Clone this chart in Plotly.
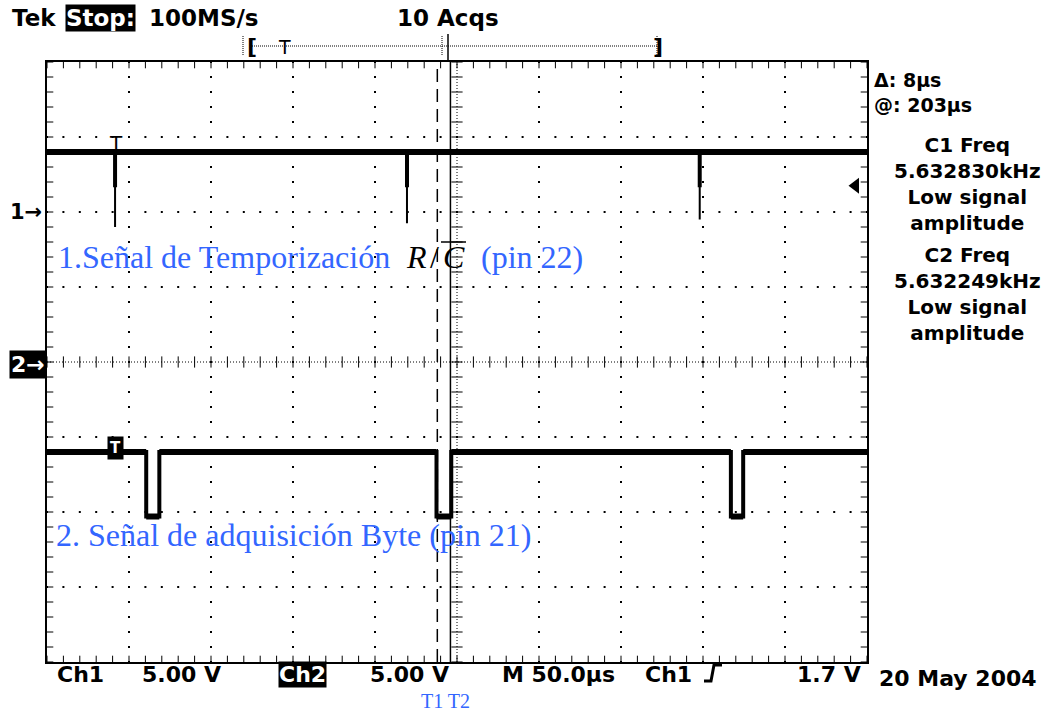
import numpy as np
import plotly.graph_objects as go

# ---------------- data ----------------
# time axis in microseconds (50 us/div, 10 div), vertical axis in screen divisions (-4..4)
ch1_high = 2.8
ch1_spike_t = [41.5, 219.5, 398.0]
ch1_spike_bottom = [1.8, 1.85, 1.9]
ch1_spike_knee = [2.33, 2.33, 2.33]

ch2_high = -1.2
ch2_low = -2.06
ch2_fall_t = [60.5, 237.5, 417.0]
ch2_rise_t = [68.5, 246.5, 424.5]

trigger_t = 42.0
trigger_level = 2.35
cursor_t1 = 238.0
cursor_t2 = 246.0

top_labels = ["Tek", "Stop:", "100MS/s", "10 Acqs"]
bottom_labels = ["Ch1", "5.00 V", "Ch2", "5.00 V", "M 50.0\u00b5s", "Ch1", "1.7 V", "20 May 2004"]
side_cursor = ["\u0394: 8\u00b5s", "@: 203\u00b5s"]
side_c1 = ["C1 Freq", "5.632830kHz", "Low signal", "amplitude"]
side_c2 = ["C2 Freq", "5.632249kHz", "Low signal", "amplitude"]
blue1 = ["1.Se\u00f1al de Temporizaci\u00f3n", "(pin 22)"]
blue2 = "2. Se\u00f1al de adquisici\u00f3n Byte (pin 21)"
cursor_names = "T1 T2"

# ---------------- geometry helpers (layout only) ----------------
W, H = 1059, 713
L, R, T, B = 47, 867, 62, 662
XMAX, YMAX = 500.0, 4.0


def xp(px):
    return (px - L) / (R - L)


def yp(py):
    return (B - py) / (B - T)


SCOPE = "DejaVu Sans"
SERIF = "Liberation Serif"
BLUE = "#3366FF"

fig = go.Figure()

# ---------------- graticule ----------------
sub_x = np.arange(0, XMAX + 0.01, 10.0)
sub_y = np.round(np.arange(-YMAX, YMAX + 0.001, 0.2), 3)
major_x = [m for m in np.arange(50.0, XMAX, 50.0) if m != 250.0]
major_y = [m for m in range(-3, 4) if m != 0]

gx, gy = [], []
for mx in major_x:
    for v in sub_y:
        gx.append(mx); gy.append(v)
for my in major_y:
    for v in sub_x:
        gx.append(v); gy.append(my)
fig.add_trace(go.Scatter(x=gx, y=gy, mode="markers", hoverinfo="skip",
                         marker=dict(symbol="square", size=2, color="black", line=dict(width=0))))

# center-cross ticks
fig.add_trace(go.Scatter(x=[250.0] * len(sub_y), y=sub_y, mode="markers", hoverinfo="skip",
                         marker=dict(symbol="line-ew", size=8, line=dict(width=1, color="black"))))
fig.add_trace(go.Scatter(x=sub_x, y=[0.0] * len(sub_x), mode="markers", hoverinfo="skip",
                         marker=dict(symbol="line-ns", size=8, line=dict(width=1, color="black"))))
# border ticks (half clipped by the plot area)
fig.add_trace(go.Scatter(x=list(sub_x) * 2, y=[YMAX] * len(sub_x) + [-YMAX] * len(sub_x),
                         mode="markers", hoverinfo="skip",
                         marker=dict(symbol="line-ns", size=9, line=dict(width=1, color="black"))))
fig.add_trace(go.Scatter(x=[0.0] * len(sub_y) + [XMAX] * len(sub_y), y=list(sub_y) * 2,
                         mode="markers", hoverinfo="skip",
                         marker=dict(symbol="line-ew", size=9, line=dict(width=1, color="black"))))

# ---------------- channel 1 ----------------
x1, y1 = [0.0], [ch1_high]
for t, b in zip(ch1_spike_t, ch1_spike_bottom):
    x1 += [t, t, t]
    y1 += [ch1_high, b, ch1_high]
x1.append(XMAX); y1.append(ch1_high)
fig.add_trace(go.Scatter(x=x1, y=y1, mode="lines", hoverinfo="skip",
                         line=dict(color="black", width=2)))
xk, yk = [], []
for t, k in zip(ch1_spike_t, ch1_spike_knee):
    xk += [t, t, None]
    yk += [ch1_high, k, None]
fig.add_trace(go.Scatter(x=xk, y=yk, mode="lines", hoverinfo="skip",
                         line=dict(color="black", width=4)))
fig.add_trace(go.Scatter(x=[0.0, XMAX], y=[ch1_high, ch1_high], mode="lines", hoverinfo="skip",
                         line=dict(color="black", width=6)))

# ---------------- channel 2 ----------------
x2, y2 = [0.0], [ch2_high]
for f, r in zip(ch2_fall_t, ch2_rise_t):
    x2 += [f, f, r, r]
    y2 += [ch2_high, ch2_low, ch2_low, ch2_high]
x2.append(XMAX); y2.append(ch2_high)
fig.add_trace(go.Scatter(x=x2, y=y2, mode="lines", hoverinfo="skip",
                         line=dict(color="black", width=4)))
xl, yl = [0.0], [ch2_high]
for f, r in zip(ch2_fall_t, ch2_rise_t):
    xl += [f, None, f, r, None, r]
    yl += [ch2_high, None, ch2_low, ch2_low, None, ch2_high]
xl.append(XMAX); yl.append(ch2_high)
fig.add_trace(go.Scatter(x=xl, y=yl, mode="lines", hoverinfo="skip",
                         line=dict(color="black", width=6)))

# trigger level arrow on the right
fig.add_trace(go.Scatter(x=[XMAX - 7], y=[trigger_level], mode="markers", hoverinfo="skip",
                         cliponaxis=False,
                         marker=dict(symbol="triangle-left", size=14, color="black")))

shapes = []
# center cross dotted lines
shapes.append(dict(type="line", xref="x", yref="y", x0=250, x1=250, y0=-YMAX, y1=YMAX,
                   line=dict(color="black", width=1, dash="1px,2px")))
shapes.append(dict(type="line", xref="x", yref="y", x0=0, x1=XMAX, y0=0, y1=0,
                   line=dict(color="black", width=1, dash="1px,2px")))
# cursors
shapes.append(dict(type="line", xref="x", yref="y", x0=cursor_t1, x1=cursor_t1, y0=-YMAX, y1=YMAX,
                   line=dict(color="black", width=1.5, dash="13px,7px")))
shapes.append(dict(type="line", xref="x", yref="y", x0=cursor_t2, x1=cursor_t2, y0=-YMAX, y1=YMAX,
                   line=dict(color="black", width=1.5)))
# record-length bar on top
shapes.append(dict(type="line", xref="paper", yref="paper", x0=xp(252), x1=xp(657), y0=yp(46), y1=yp(46),
                   line=dict(color="black", width=1, dash="1px,1px")))
for px in (243, 657, 442):
    shapes.append(dict(type="line", xref="paper", yref="paper", x0=xp(px), x1=xp(px), y0=yp(36), y1=yp(56),
                       line=dict(color="black", width=1, dash="1px,1px")))
shapes.append(dict(type="line", xref="paper", yref="paper", x0=xp(448), x1=xp(448), y0=yp(34), y1=yp(62),
                   line=dict(color="black", width=1.5)))
# overline of C
shapes.append(dict(type="line", xref="paper", yref="paper", x0=xp(441), x1=xp(466), y0=yp(242), y1=yp(242),
                   line=dict(color="black", width=1.5)))
# rising-edge trigger symbol in the status line
shapes.append(dict(type="path", xref="paper", yref="paper",
                   path="M {:.5f} {:.5f} L {:.5f} {:.5f} L {:.5f} {:.5f} L {:.5f} {:.5f}".format(
                       xp(704), yp(681), xp(711), yp(681), xp(714), yp(665), xp(722), yp(665)),
                   line=dict(color="black", width=3)))

ann = []


def txt(s, px, py, size=22, anchor="left", color="black", family=SCOPE, weight="bold", bg=None,
        style="normal", pad=0):
    d = dict(text=s, x=xp(px), y=yp(py), xref="paper", yref="paper", xanchor=anchor, yanchor="middle",
             showarrow=False, align=anchor,
             font=dict(family=family, size=size, color=color, weight=weight, style=style))
    if bg:
        d["bgcolor"] = bg
        d["borderpad"] = pad
    ann.append(d)


# top status line
txt(top_labels[0], 10, 18, size=23)
txt(top_labels[1], 65, 18, size=23, color="white", bg="black")
txt(top_labels[2], 147, 18, size=23)
txt(top_labels[3], 395, 18, size=23)
txt("[", 245, 46, size=22)
txt("]", 651, 46, size=22)
txt("T", 284, 47, size=19, anchor="center", weight="normal")

# bottom status line
txt(bottom_labels[0], 55, 674)
txt(bottom_labels[1], 140, 674)
txt(bottom_labels[2], 278, 674, color="white", bg="black")
txt(bottom_labels[3], 368, 674)
txt(bottom_labels[4], 500, 674)
txt(bottom_labels[5], 643, 674)
txt(bottom_labels[6], 795, 674)
txt(bottom_labels[7], 877, 678)

# side read-outs (one block each)
txt("<br>".join(side_cursor), 872, 93, size=19)
txt("<br>".join(side_c1), 967, 184, size=20, anchor="center")
txt("<br>".join(side_c2), 967, 294, size=20, anchor="center")

# channel markers on the left
txt("1\u2192", 44, 212, size=21, anchor="right")
txt("2\u2192", 47, 364, size=22, anchor="right", color="white", bg="black", pad=1)

# trigger marks on the traces
ann.append(dict(text="T", x=trigger_t, y=ch1_high + 0.12, xref="x", yref="y", showarrow=False,
                xanchor="center", yanchor="middle",
                font=dict(family=SCOPE, size=20, color="black", weight="normal")))
ann.append(dict(text="T", x=trigger_t, y=ch2_high + 0.06, xref="x", yref="y", showarrow=False,
                xanchor="center", yanchor="middle", bgcolor="black", borderpad=2,
                font=dict(family=SCOPE, size=15, color="white", weight="bold")))

# blue annotations
txt(blue1[0], 56, 257, size=32, color=BLUE, family=SERIF, weight="normal")
txt("R", 404, 257, size=32, color="black", family=SERIF, weight="normal", style="italic")
txt("/", 428, 257, size=32, color="black", family=SERIF, weight="normal")
txt("C", 441, 257, size=32, color="black", family=SERIF, weight="normal", style="italic")
txt(blue1[1], 479, 257, size=32, color=BLUE, family=SERIF, weight="normal")
txt(blue2, 54, 535, size=32, color=BLUE, family=SERIF, weight="normal")
txt(cursor_names, 419, 701, size=20, color=BLUE, family=SERIF, weight="normal")

axis = dict(showgrid=False, zeroline=False, showticklabels=False, ticks="", showline=True, mirror=True,
            linecolor="black", linewidth=2, fixedrange=True)
fig.update_layout(
    width=W, height=H, margin=dict(l=L, r=W - R, t=T, b=H - B, pad=0),
    paper_bgcolor="white", plot_bgcolor="white", showlegend=False,
    xaxis=dict(range=[0, XMAX], **axis),
    yaxis=dict(range=[-YMAX, YMAX], **axis),
    shapes=shapes, annotations=ann,
)

fig.write_html("out.html", config={"displayModeBar": False})
